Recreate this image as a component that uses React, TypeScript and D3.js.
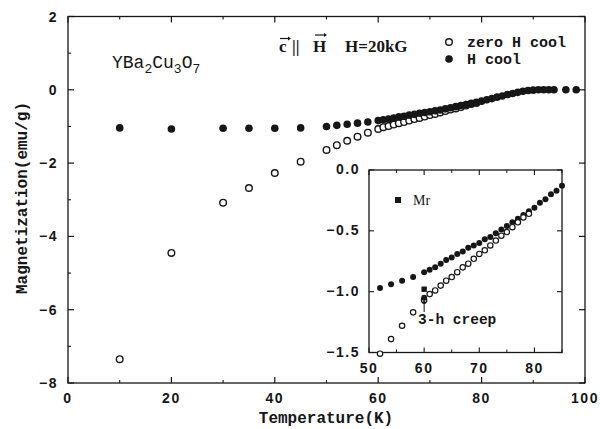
import React from "react";
import * as d3 from "d3";

// ---- data ----
const mainXTicks = [0, 20, 40, 60, 80, 100];
const mainXMinor = [10, 30, 50, 70, 90];
const mainYTicks = [-8, -6, -4, -2, 0, 2];
const mainYTickLabels = ["\u22128", "\u22126", "\u22124", "\u22122", "0", "2"];
const mainYMinor = [-7, -5, -3, -1, 1];
const insetXTicks = [50, 60, 70, 80];
const insetXMinor = [55, 65, 75, 85];
const insetYTicks = [-1.5, -1.0, -0.5, 0.0];
const insetYTickLabels = ["\u22121.5", "\u22121.0", "\u22120.5", "0.0"];

// zero H cool (open circles)
const zfcT = [10, 20, 30, 35, 40, 45, 50, 52, 54, 56, 58, 60,
  61, 62, 63, 64, 65, 66, 67, 68, 69, 70, 71, 72, 73, 74, 75, 76, 77, 78, 79];
const zfcM = [-7.35, -4.45, -3.08, -2.68, -2.27, -1.96, -1.64, -1.51, -1.39, -1.28, -1.17, -1.07,
  -1.02, -0.99, -0.95, -0.91, -0.88, -0.84, -0.80, -0.77, -0.73, -0.69, -0.66, -0.62, -0.58, -0.54, -0.51, -0.47, -0.43, -0.39, -0.36];

// H cool (filled circles)
const fcT = [10, 20, 30, 35, 40, 45, 50, 52, 54, 56, 58, 60,
  61, 62, 63, 64, 65, 66, 67, 68, 69, 70, 71, 72, 73, 74, 75, 76, 77, 78, 79, 80,
  81, 82, 83, 84, 85, 86, 87, 88, 89, 90, 91, 92, 93, 94, 96.3, 98.3];
const fcM = [-1.04, -1.07, -1.05, -1.05, -1.05, -1.04, -1.0, -0.97, -0.94, -0.91, -0.88, -0.84,
  -0.82, -0.80, -0.77, -0.74, -0.72, -0.69, -0.67, -0.64, -0.62, -0.60, -0.57, -0.55, -0.52, -0.49, -0.46, -0.43, -0.40, -0.37, -0.34, -0.31,
  -0.27, -0.24, -0.20, -0.17, -0.13, -0.10, -0.07, -0.04, -0.02, -0.01, 0, 0, 0, 0, 0, 0];

// inset extras: 3-h creep point and remanent magnetization
const creepT = [60];
const creepM = [-1.05];
const mrT = [60];
const mrM = [-0.98];

const zfc = zfcT.map((t, i) => ({ t, m: zfcM[i] }));
const fc = fcT.map((t, i) => ({ t, m: fcM[i] }));

const W = 600;
const H = 429;
const INK = "#161616";
const tickFont = "'Liberation Sans', Arial, sans-serif";
const monoFont = "'Liberation Mono', 'Courier New', monospace";
const serifFont = "'Liberation Serif', 'Times New Roman', serif";

export default function App() {
  const x = d3.scaleLinear().domain([0, 100]).range([68, 585]);
  const y = d3.scaleLinear().domain([-8, 2]).range([383, 16.5]);
  const xi = d3.scaleLinear().domain([50, 85]).range([369, 562]);
  const yi = d3.scaleLinear().domain([-1.5, 0]).range([352.5, 170]);

  const [x0, x1] = x.range();
  const [y0, y1] = y.range();
  const [xi0, xi1] = xi.range();
  const [yi0, yi1] = yi.range();

  const insetPts = (arr: { t: number; m: number }[]) =>
    arr.filter((d) => d.t > 50.5 && d.t <= 85.5 && d.m >= -1.52 && d.m <= 0.02);

  return (
    <svg width={W} height={H} style={{ position: "absolute", left: 0, top: 0, background: "#fff" }}>
      <rect x={0} y={0} width={W} height={H} fill="#fff" />
      {/* main frame */}
      <rect x={x0} y={y1} width={x1 - x0} height={y0 - y1} fill="none" stroke={INK} strokeWidth={1.3} />
      {/* main x ticks */}
      {mainXTicks.map((t) => (
        <g key={"mx" + t}>
          <line x1={x(t)} x2={x(t)} y1={y0} y2={y0 - 6} stroke={INK} strokeWidth={1.2} />
          <line x1={x(t)} x2={x(t)} y1={y1} y2={y1 + 6} stroke={INK} strokeWidth={1.2} />
          <text x={x(t)} y={403} textAnchor="middle" fontFamily={tickFont} fontWeight="bold" fontSize={14} letterSpacing={1.5} fill={INK}>
            {t}
          </text>
        </g>
      ))}
      {mainXMinor.map((t) => (
        <g key={"mxm" + t}>
          <line x1={x(t)} x2={x(t)} y1={y0} y2={y0 - 3} stroke={INK} strokeWidth={1.1} />
          <line x1={x(t)} x2={x(t)} y1={y1} y2={y1 + 3} stroke={INK} strokeWidth={1.1} />
        </g>
      ))}
      {/* main y ticks */}
      {mainYTicks.map((t, i) => (
        <g key={"my" + t}>
          <line x1={x0} x2={x0 + 6} y1={y(t)} y2={y(t)} stroke={INK} strokeWidth={1.2} />
          <line x1={x1} x2={x1 - 6} y1={y(t)} y2={y(t)} stroke={INK} strokeWidth={1.2} />
          <text x={58} y={y(t) + 5} textAnchor="end" fontFamily={tickFont} fontWeight="bold" fontSize={14} letterSpacing={1.5} fill={INK}>
            {mainYTickLabels[i]}
          </text>
        </g>
      ))}
      {mainYMinor.map((t) => (
        <line key={"mym" + t} x1={x0} x2={x0 + 3} y1={y(t)} y2={y(t)} stroke={INK} strokeWidth={1.1} />
      ))}
      {/* axis titles */}
      <text x={326} y={423} textAnchor="middle" fontFamily={monoFont} fontWeight="bold" fontSize={16} fill={INK}>
        Temperature(K)
      </text>
      <text
        transform={`translate(27,198) rotate(-90)`}
        textAnchor="middle"
        fontFamily={monoFont}
        fontWeight="bold"
        fontSize={16}
        fill={INK}
      >
        Magnetization(emu/g)
      </text>

      {/* main data: open then filled */}
      {zfc.map((d, i) => (
        <circle key={"zo" + i} cx={x(d.t)} cy={y(d.m)} r={3.3} fill="#fff" stroke={INK} strokeWidth={1.4} />
      ))}
      {fc.map((d, i) => (
        <circle key={"fo" + i} cx={x(d.t)} cy={y(d.m)} r={3.8} fill={INK} />
      ))}

      {/* compound label */}
      <text x={112} y={68} fontFamily={monoFont} fontSize={18} fill={INK}>
        YBa<tspan fontSize={13} dy={5}>2</tspan>
        <tspan dy={-5}>Cu</tspan>
        <tspan fontSize={13} dy={5}>3</tspan>
        <tspan dy={-5}>O</tspan>
        <tspan fontSize={13} dy={5}>7</tspan>
      </text>

      {/* field annotation */}
      <g fill={INK}>
        <text x={279} y={52} fontFamily={serifFont} fontWeight="bold" fontSize={17}>c</text>
        <text x={292} y={52} fontFamily={serifFont} fontWeight="bold" fontSize={17}>||</text>
        <text x={313} y={52} fontFamily={serifFont} fontWeight="bold" fontSize={17}>H</text>
        <text x={345} y={52} fontFamily={serifFont} fontWeight="bold" fontSize={17}>H=20kG</text>
        <line x1={280} x2={288} y1={38.5} y2={38.5} stroke={INK} strokeWidth={1.2} />
        <path d="M288,36.5 L291,38.5 L288,40.5 Z" />
        <line x1={315} x2={324} y1={35} y2={35} stroke={INK} strokeWidth={1.2} />
        <path d="M324,33 L327,35 L324,37 Z" />
      </g>

      {/* legend */}
      <circle cx={449} cy={42} r={3.3} fill="#fff" stroke={INK} strokeWidth={1.4} />
      <text x={467} y={47} fontFamily={monoFont} fontWeight="bold" fontSize={15} fill={INK}>zero H cool</text>
      <circle cx={449} cy={59} r={3.8} fill={INK} />
      <text x={467} y={64} fontFamily={monoFont} fontWeight="bold" fontSize={15} fill={INK}>H cool</text>

      {/* inset */}
      <rect x={xi0} y={yi1} width={xi1 - xi0} height={yi0 - yi1} fill="#fff" stroke={INK} strokeWidth={1.3} />
      {insetXTicks.map((t) => (
        <g key={"ix" + t}>
          <line x1={xi(t)} x2={xi(t)} y1={yi0} y2={yi0 - 5} stroke={INK} strokeWidth={1.1} />
          <line x1={xi(t)} x2={xi(t)} y1={yi1} y2={yi1 + 5} stroke={INK} strokeWidth={1.1} />
          <text x={xi(t)} y={373} textAnchor="middle" fontFamily={tickFont} fontWeight="bold" fontSize={14} letterSpacing={1.5} fill={INK}>
            {t}
          </text>
        </g>
      ))}
      {insetXMinor.map((t) => (
        <g key={"ixm" + t}>
          <line x1={xi(t)} x2={xi(t)} y1={yi0} y2={yi0 - 3} stroke={INK} strokeWidth={1} />
          <line x1={xi(t)} x2={xi(t)} y1={yi1} y2={yi1 + 3} stroke={INK} strokeWidth={1} />
        </g>
      ))}
      {insetYTicks.map((t, i) => (
        <g key={"iy" + t}>
          <line x1={xi0} x2={xi0 + 5} y1={yi(t)} y2={yi(t)} stroke={INK} strokeWidth={1.1} />
          <line x1={xi1} x2={xi1 - 5} y1={yi(t)} y2={yi(t)} stroke={INK} strokeWidth={1.1} />
          <text x={360} y={yi(t) + 4} textAnchor="end" fontFamily={tickFont} fontWeight="bold" fontSize={14} letterSpacing={1.5} fill={INK}>
            {insetYTickLabels[i]}
          </text>
        </g>
      ))}
      {insetPts(fc).map((d, i) => (
        <circle key={"fi" + i} cx={xi(d.t)} cy={yi(d.m)} r={3.0} fill={INK} />
      ))}
      {insetPts(zfc).map((d, i) => (
        <circle key={"zi" + i} cx={xi(d.t)} cy={yi(d.m)} r={2.7} fill="#fff" stroke={INK} strokeWidth={1.2} />
      ))}
      {creepT.map((t, i) => (
        <circle key={"cr" + i} cx={xi(t)} cy={yi(creepM[i])} r={2.9} fill={INK} />
      ))}
      {mrT.map((t, i) => (
        <rect key={"mr" + i} x={xi(t) - 2.7} y={yi(mrM[i]) - 2.7} width={5.4} height={5.4} fill={INK} />
      ))}
      {/* creep arrow */}
      <line x1={xi(60)} x2={xi(60)} y1={312} y2={yi(-1.05) + 3} stroke={INK} strokeWidth={1} />
      <path d={`M${xi(60) - 2},${yi(-1.05) + 6} L${xi(60)},${yi(-1.05) + 2} L${xi(60) + 2},${yi(-1.05) + 6} Z`} fill={INK} />
      <text x={418} y={324} fontFamily={monoFont} fontWeight="bold" fontSize={14.5} fill={INK}>3-h creep</text>
      {/* Mr legend */}
      <rect x={395} y={197} width={6} height={6} fill={INK} />
      <text x={413} y={205} fontFamily={serifFont} fontSize={14} fill={INK}>Mr</text>
    </svg>
  );
}
